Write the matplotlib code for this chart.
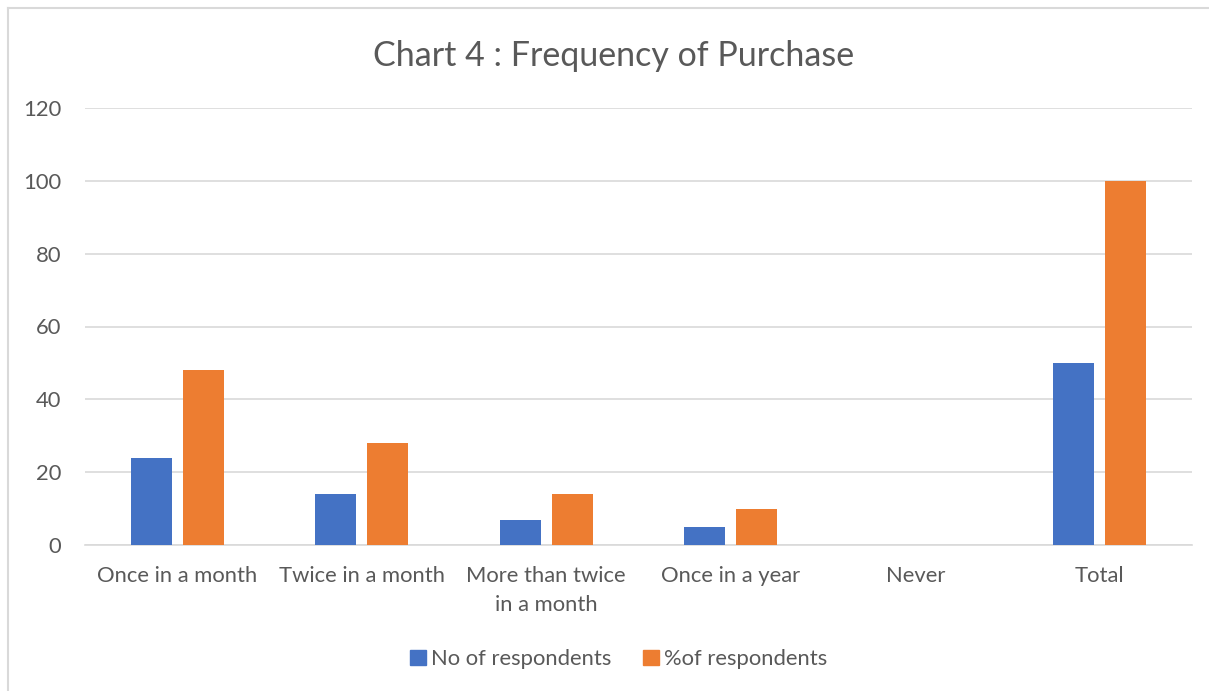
import matplotlib
matplotlib.use("Agg")
import matplotlib.pyplot as plt
from matplotlib.lines import Line2D
import numpy as np

categories = ["Once in a month", "Twice in a month", "More than twice\nin a month",
              "Once in a year", "Never", "Total"]
respondents = [24, 14, 7, 5, 0, 50]
pct_respondents = [48, 28, 14, 10, 0, 100]
series_names = ["No of respondents", "%of respondents"]
y_ticks = [0, 20, 40, 60, 80, 100, 120]

blue = "#4472C4"
orange = "#ED7D31"
text_col = "#595959"
grid_col = "#D9D9D9"

plt.rcParams["font.family"] = ["Lato", "DejaVu Sans"]

W, H = 1209, 691
fig = plt.figure(figsize=(W / 100, H / 100), dpi=100)

# plot area in pixel coordinates
left, right, top, bottom = 85, 1192, 108, 545
ax = fig.add_axes([left / W, 1 - bottom / H, (right - left) / W, (bottom - top) / H])

x = np.arange(len(categories))
bw = 0.222
gap = 0.06
ax.bar(x - (bw + gap) / 2, respondents, width=bw, color=blue, label=series_names[0], zorder=3)
ax.bar(x + (bw + gap) / 2, pct_respondents, width=bw, color=orange, label=series_names[1], zorder=3)

fs = 15.8
ax.set_xlim(-0.5, len(categories) - 0.5)
ax.set_ylim(0, 120)
ax.set_yticks(y_ticks)
ax.set_yticklabels([str(v) for v in y_ticks], fontsize=fs, color=text_col)
ax.set_xticks(x)
ax.set_xticklabels(categories, fontsize=fs, color=text_col, linespacing=1.55, va="top")
ax.tick_params(axis="both", length=0)
ax.tick_params(axis="y", pad=17)
ax.tick_params(axis="x", pad=15)

ax.grid(axis="y", color=grid_col, linewidth=1.2, zorder=0)
for s in ["top", "right", "left"]:
    ax.spines[s].set_visible(False)
ax.spines["bottom"].set_color(grid_col)
ax.spines["bottom"].set_linewidth(1.2)

fig.text(614 / W, 1 - 56 / H, "Chart 4 : Frequency of Purchase", ha="center", va="center",
         fontsize=24.5, color=text_col)

handles = [plt.Rectangle((0, 0), 1, 1, color=blue), plt.Rectangle((0, 0), 1, 1, color=orange)]
fig.legend(handles, series_names, loc="center", bbox_to_anchor=(619 / W, 1 - 659 / H),
           ncol=2, frameon=False, fontsize=fs, labelcolor=text_col,
           handlelength=0.7, handleheight=0.7, handletextpad=0.25, columnspacing=1.45)

# chart frame (top and left edges)
fig.add_artist(Line2D([8 / W, 8 / W], [0, 1 - 8 / H], transform=fig.transFigure,
                      color=grid_col, linewidth=1.5))
fig.add_artist(Line2D([8 / W, 1], [1 - 8 / H, 1 - 8 / H], transform=fig.transFigure,
                      color=grid_col, linewidth=1.5))

fig.savefig("out.png", dpi=100, facecolor="white")
